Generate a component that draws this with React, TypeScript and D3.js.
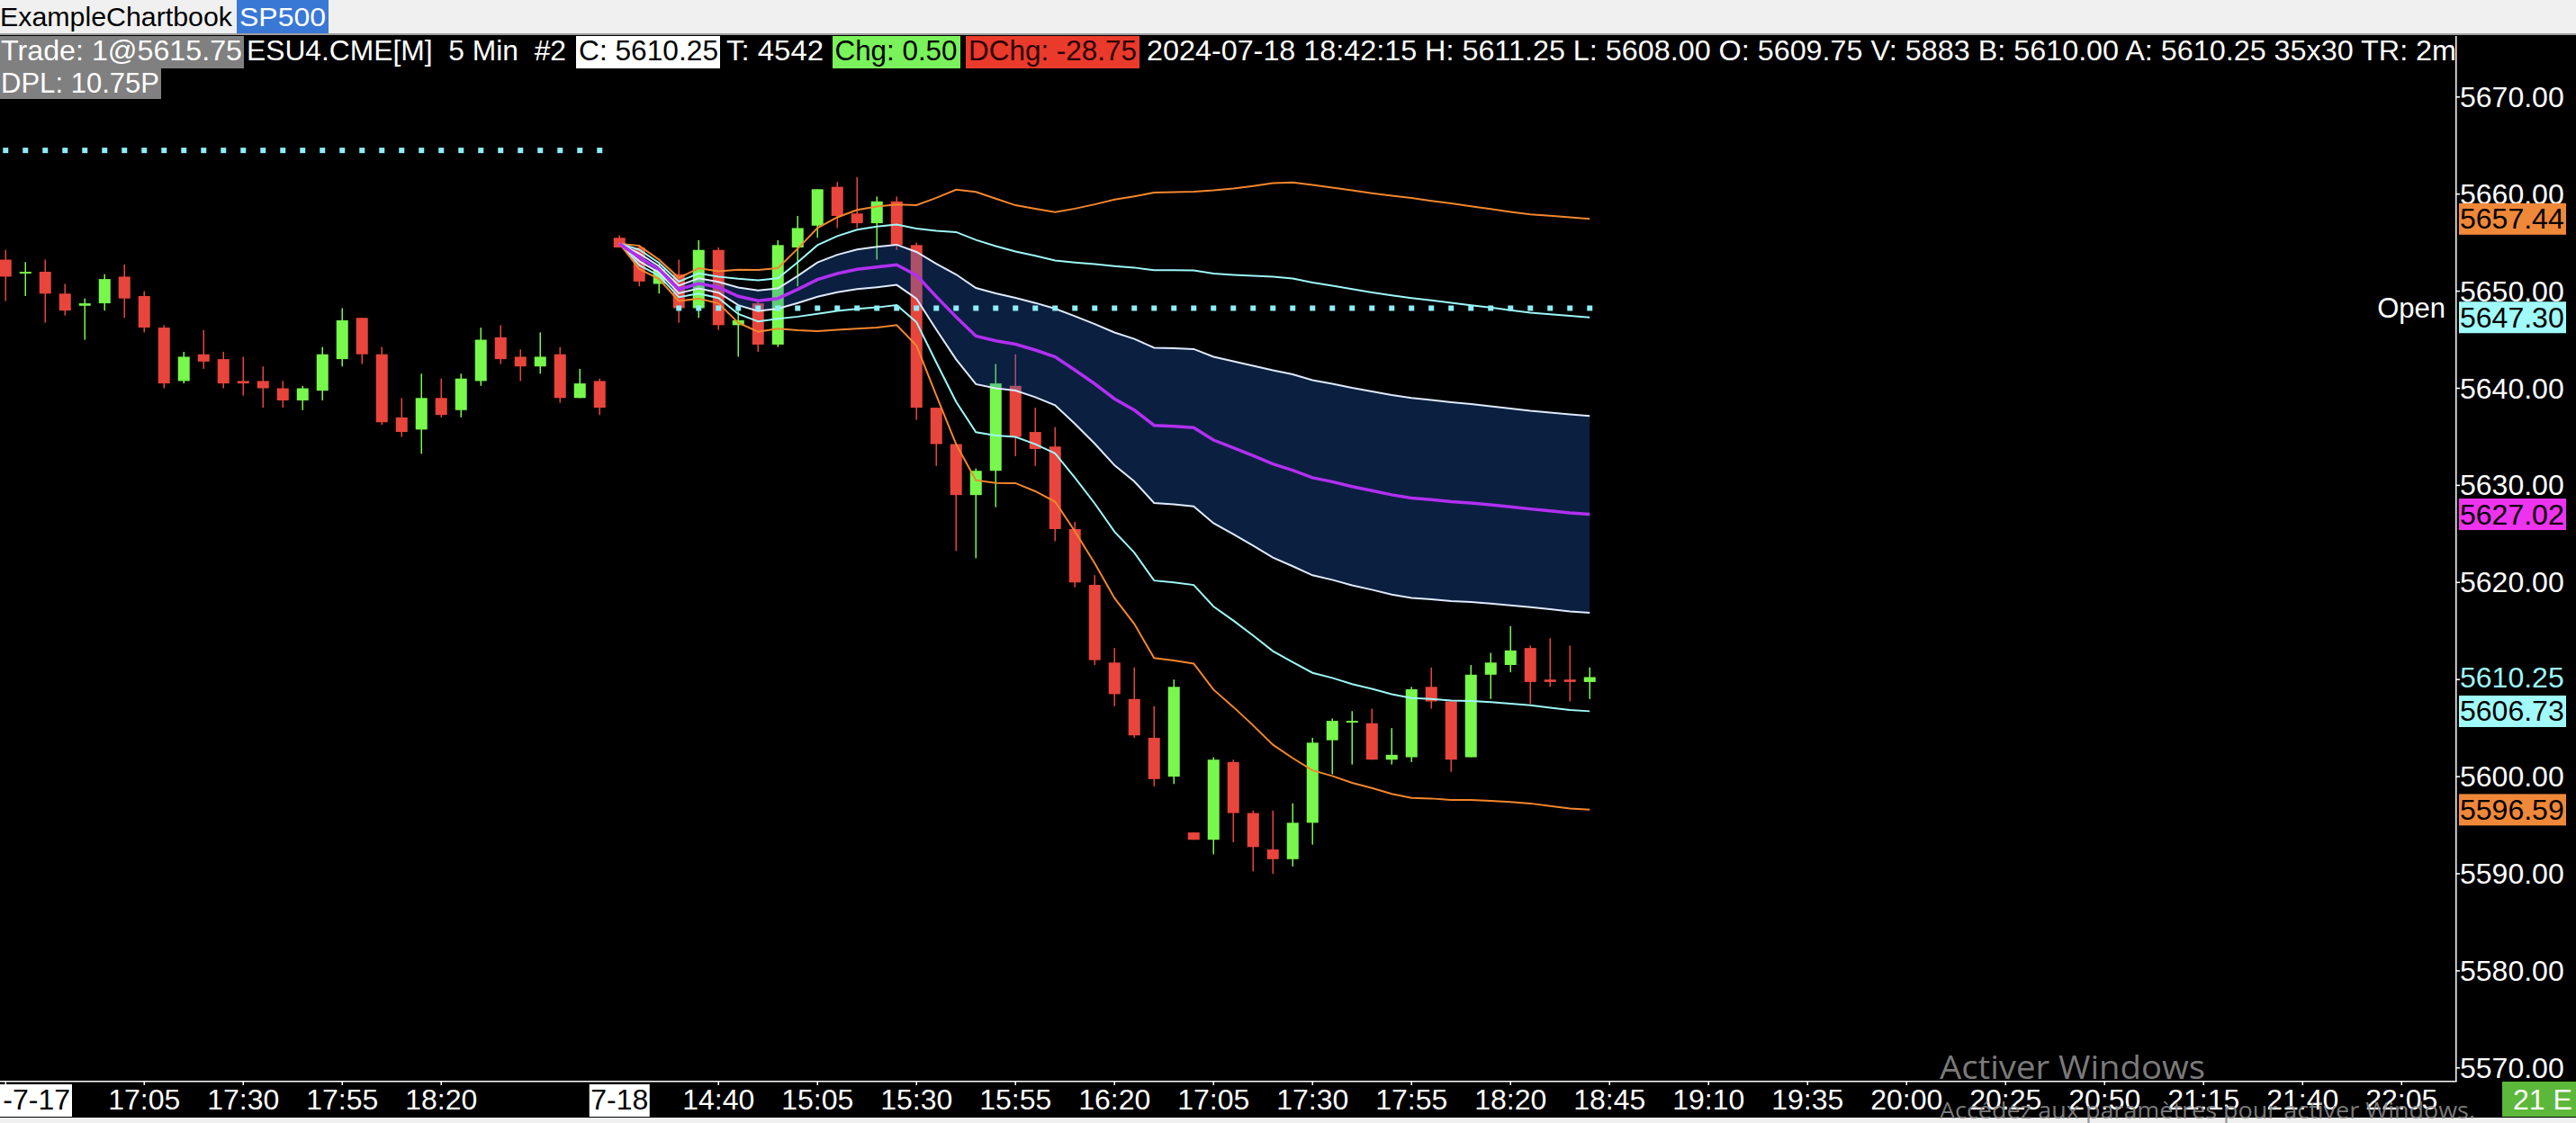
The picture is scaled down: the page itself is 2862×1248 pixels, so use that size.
import React from "react";
import * as d3 from "d3";

const W = 2862;
const H = 1248;

// OHLC per 5-min bar (bars 0..30 = 7-17 session, 31..80 = 7-18 session)
const opens = [
  5653.25, 5652, 5652, 5649.75, 5648.5, 5648.75, 5651.5, 5649.5, 5646.25, 5640.75,
  5643.5, 5643, 5640.75, 5640.75, 5640, 5638.75, 5639.75, 5643, 5647.25, 5643.5,
  5637, 5635.75, 5639, 5637.75, 5640.75, 5645.25, 5643.25, 5642.25, 5643.5, 5639,
  5640.75,
  5655.5, 5654.5, 5650.75, 5651.75, 5648.25, 5654.25, 5646.5, 5648.75, 5644.5, 5654.5,
  5656.75, 5660.75, 5658, 5657, 5659.25, 5654.75, 5638, 5634.25, 5629, 5631.5,
  5640.25, 5635.5, 5634, 5625.5, 5619.75, 5611.75, 5608, 5604, 5600, 5594.25,
  5593.5, 5601.5, 5596.25, 5592.5, 5591.5, 5595.25, 5603.75, 5605.75, 5605.5, 5601.75,
  5602, 5609.25, 5607.75, 5602, 5610.5, 5611.5, 5613.25, 5610, 5610, 5609.75,
];
const highs = [
  5654.25, 5653, 5653.25, 5650.75, 5649.25, 5651.75, 5652.75, 5650, 5646.5, 5643.75,
  5646, 5643.75, 5643.25, 5642.25, 5640.75, 5640.25, 5644.25, 5648.25, 5647.25, 5644.25,
  5639, 5641.5, 5641, 5641.5, 5646.25, 5646.5, 5644, 5645.75, 5644.25, 5642,
  5641,
  5655.75, 5654.75, 5652.75, 5653.25, 5655.25, 5654.5, 5648, 5649, 5655.25, 5657.75,
  5660.5, 5661.25, 5661.75, 5659.75, 5659.75, 5655, 5638, 5634.25, 5631.75, 5642.5,
  5643.5, 5638, 5636, 5626.25, 5620.75, 5613.25, 5611.25, 5607.25, 5610, 5594.25,
  5602, 5601.75, 5596.5, 5596.5, 5597.25, 5604, 5606, 5606.75, 5607, 5605,
  5609.25, 5611.25, 5607.75, 5611.5, 5612.75, 5615.5, 5613.5, 5614.25, 5613.5, 5611.25,
];
const lows = [
  5649, 5649.5, 5646.75, 5647.5, 5645, 5648, 5647.25, 5645.75, 5640, 5640.5,
  5642, 5640, 5639.25, 5638, 5638, 5637.75, 5638.75, 5642.25, 5642.5, 5636.25,
  5635, 5633.25, 5637, 5637, 5640.25, 5642.5, 5640.75, 5641.5, 5638.5, 5639,
  5637.25,
  5654.5, 5650.5, 5649.75, 5646.75, 5647.25, 5646, 5643.25, 5643.75, 5644.25, 5650.5,
  5655.5, 5656.5, 5656.5, 5653.25, 5654.25, 5636.75, 5632, 5623.25, 5622.5, 5627.75,
  5633, 5632, 5624.25, 5619.5, 5611.5, 5607.25, 5604, 5599, 5599.25, 5593.5,
  5592, 5593.25, 5590.25, 5590, 5590.75, 5593, 5600.25, 5601.25, 5601.75, 5601.25,
  5601.5, 5607, 5600.5, 5602, 5608, 5610.75, 5607.5, 5609.25, 5607.75, 5608,
];
const closes = [
  5651.5, 5652, 5649.75, 5648, 5648.75, 5651.25, 5649.25, 5646.25, 5640.5, 5643.25,
  5642.75, 5640.5, 5640.5, 5640, 5638.75, 5640, 5643.5, 5647, 5643.5, 5636.5,
  5635.5, 5639, 5637.25, 5641, 5645, 5643, 5642.25, 5643.25, 5639, 5640.5,
  5638,
  5654.5, 5651, 5652.25, 5648.25, 5654.25, 5646.5, 5647, 5644.5, 5654.75, 5656.5,
  5660.5, 5657.75, 5657, 5659.25, 5654.75, 5638, 5634.25, 5629, 5631.5, 5640.5,
  5635, 5633.75, 5625.5, 5620, 5612, 5608.5, 5604.25, 5599.75, 5609.25, 5593.5,
  5601.75, 5596.25, 5592.75, 5591.5, 5595.25, 5603.5, 5605.75, 5605.75, 5601.75, 5602.25,
  5609, 5607.75, 5601.75, 5610.5, 5611.75, 5613, 5609.75, 5609.75, 5609.75, 5610.25,
];

// VWAP and its standard deviation for bars 31..80
const sessionStart = 31;
const vwap = [
  5654.9, 5653.48, 5652.25, 5650.18, 5650.8, 5650.4, 5649.47, 5649.01, 5649.25, 5650.18,
  5651.2, 5651.82, 5652.25, 5652.49, 5652.72, 5651.63, 5649.44, 5647.35, 5645.38, 5644.89,
  5644.54, 5643.94, 5643.23, 5641.88, 5640.46, 5638.91, 5637.75, 5636.18, 5636.09, 5635.94,
  5634.67, 5633.88, 5633.06, 5632.21, 5631.55, 5630.79, 5630.37, 5629.87, 5629.46, 5629.03,
  5628.7, 5628.53, 5628.32, 5628.18, 5627.99, 5627.78, 5627.57, 5627.37, 5627.16, 5627.02,
];
const sigma = [
  0, 0.4, 0.33, 0.4, 0.52, 0.55, 0.91, 1.06, 1.04, 1.4,
  1.77, 1.93, 2.04, 2.08, 2.07, 2.41, 3.39, 4.37, 4.95, 4.88,
  4.77, 4.85, 4.97, 5.54, 6.16, 6.84, 7.34, 7.99, 8.04, 8.1,
  8.57, 8.9, 9.26, 9.64, 9.88, 10.05, 10.1, 10.17, 10.21, 10.27,
  10.3, 10.26, 10.24, 10.19, 10.16, 10.13, 10.11, 10.13, 10.15, 10.14,
];
const bandLines = [
  { k: 3, color: "#f3862e", width: 2 },
  { k: 2, color: "#9ef8f8", width: 2 },
  { k: 1, color: "#dfeaff", width: 2 },
  { k: -1, color: "#dfeaff", width: 2 },
  { k: -2, color: "#9ef8f8", width: 2 },
  { k: -3, color: "#f3862e", width: 2 },
];

// Opening-price dotted lines
const openLevels = [
  { value: 5664.5, from: 0, to: 30 },
  { value: 5648.25, from: 34, to: 80 },
];

const priceTicks = [5670, 5660, 5650, 5640, 5630, 5620, 5610, 5600, 5590, 5580, 5570];
const hiddenPriceLabels = [5610];
const lastPrice = 5610.25;
const valueTags = [
  { value: 5657.44, color: "#f0883a" },
  { value: 5647.3, color: "#a0fafa" },
  { value: 5627.02, color: "#ee33ee" },
  { value: 5606.73, color: "#a0fafa" },
  { value: 5596.59, color: "#f0883a" },
];

const timeLabels = [
  { bar: 7, label: "17:05" }, { bar: 12, label: "17:30" }, { bar: 17, label: "17:55" },
  { bar: 22, label: "18:20" }, { bar: 36, label: "14:40" }, { bar: 41, label: "15:05" },
  { bar: 46, label: "15:30" }, { bar: 51, label: "15:55" }, { bar: 56, label: "16:20" },
  { bar: 61, label: "17:05" }, { bar: 66, label: "17:30" }, { bar: 71, label: "17:55" },
  { bar: 76, label: "18:20" }, { bar: 81, label: "18:45" }, { bar: 86, label: "19:10" },
  { bar: 91, label: "19:35" }, { bar: 96, label: "20:00" }, { bar: 101, label: "20:25" },
  { bar: 106, label: "20:50" }, { bar: 111, label: "21:15" }, { bar: 116, label: "21:40" },
  { bar: 121, label: "22:05" },
];
const dateLabels = [{ bar: 31, label: "7-18" }];

const FONT = "'Liberation Sans', Arial, sans-serif";
const GREEN = "#78f84c";
const RED = "#e8453c";

export default function App() {
  const plotRight = 2728;
  const plotTop = 39;
  const plotBottom = 1201;

  const x = d3.scaleLinear().domain([0, 121]).range([6.25, 2668.25]);
  const y = d3.scaleLinear().domain([5570, 5670]).range([1186.8, 107.8]);
  const fmt = d3.format(".2f");

  const bars = opens.map((o, i) => ({ i, o, h: highs[i], l: lows[i], c: closes[i] }));

  const band = d3
    .area<number>()
    .x((_, j) => x(sessionStart + j))
    .y0((v, j) => y(v - sigma[j]))
    .y1((v, j) => y(v + sigma[j]))(vwap);

  const bandPath = (k: number) =>
    d3
      .line<number>()
      .x((_, j) => x(sessionStart + j))
      .y((v, j) => y(v + k * sigma[j]))(vwap);

  const vwapPath = d3
    .line<number>()
    .x((_, j) => x(sessionStart + j))
    .y((v) => y(v))(vwap);

  const dots: { cx: number; cy: number }[] = [];
  openLevels.forEach((lv) => {
    d3.range(lv.from, lv.to + 1).forEach((b) => dots.push({ cx: x(b), cy: y(lv.value) }));
  });

  return (
    <svg
      width={W}
      height={H}
      style={{ position: "absolute", left: 0, top: 0, background: "#000" }}
      fontFamily={FONT}
    >
      <defs>
        <clipPath id="plotClip">
          <rect x={0} y={plotTop} width={plotRight} height={plotBottom - plotTop} />
        </clipPath>
        <clipPath id="headClip">
          <rect x={0} y={plotTop} width={plotRight} height={80} />
        </clipPath>
      </defs>
      <rect x={0} y={0} width={W} height={H} fill="#000" />

      {/* title bar */}
      <rect x={0} y={0} width={W} height={37} fill="#f0f0f0" />
      <rect x={0} y={37} width={W} height={2} fill="#a0a0a0" />
      <text x={0} y={29} fontSize={29} fill="#000" textLength={258} lengthAdjust="spacingAndGlyphs">
        ExampleChartbook
      </text>
      <rect x={263} y={0} width={102} height={37} fill="#3a78d6" />
      <text x={266} y={29} fontSize={29} fill="#fff" textLength={96} lengthAdjust="spacingAndGlyphs">
        SP500
      </text>

      {/* candles */}
      <g clipPath="url(#plotClip)">
        {bars.map((b) => {
          const cx = x(b.i);
          const up = b.c >= b.o;
          const col = up ? GREEN : RED;
          const top = y(Math.max(b.o, b.c));
          const bot = y(Math.min(b.o, b.c));
          return (
            <g key={b.i}>
              <rect x={cx - 0.75} y={y(b.h)} width={1.5} height={y(b.l) - y(b.h)} fill={col} />
              <rect x={cx - 6.5} y={top} width={13} height={Math.max(bot - top, 2)} fill={col} />
            </g>
          );
        })}

        {/* VWAP band */}
        <path d={band || ""} fill="rgb(37,107,213)" fillOpacity={0.3} />
        {bandLines.map((bl) => (
          <path key={bl.k} d={bandPath(bl.k) || ""} fill="none" stroke={bl.color} strokeWidth={bl.width} />
        ))}
        <path d={vwapPath || ""} fill="none" stroke="#b22ff2" strokeWidth={3.5} />

        {dots.map((d, i) => (
          <rect key={i} x={d.cx - 3} y={d.cy - 3} width={6} height={6} fill="#8eeefa" />
        ))}
      </g>

      <text x={2717} y={y(5648.25) + 11} fontSize={31} fill="#fff" textAnchor="end">
        Open
      </text>

      {/* header */}
      <g clipPath="url(#headClip)" fontSize={32} style={{ whiteSpace: "pre" }}>
        <rect x={0} y={40} width={271} height={36} fill="#808080" />
        <text x={1} y={67} fill="#fff" textLength={268} lengthAdjust="spacingAndGlyphs">Trade: 1@5615.75</text>
        <text x={274} y={67} fill="#fff" textLength={355} lengthAdjust="spacingAndGlyphs" xmlSpace="preserve">ESU4.CME[M]  5 Min  #2</text>
        <rect x={640} y={40} width={160} height={36} fill="#fff" />
        <text x={643} y={67} fill="#000" textLength={155} lengthAdjust="spacingAndGlyphs">C: 5610.25</text>
        <text x={807} y={67} fill="#fff" textLength={108} lengthAdjust="spacingAndGlyphs">T: 4542</text>
        <rect x={925} y={40} width={142} height={36} fill="#79f25c" />
        <text x={927.5} y={67} fill="#000" textLength={136} lengthAdjust="spacingAndGlyphs">Chg: 0.50</text>
        <rect x={1073} y={40} width={193} height={36} fill="#ea3a2c" />
        <text x={1076} y={67} fill="#2a0000" textLength={187} lengthAdjust="spacingAndGlyphs">DChg: -28.75</text>
        <text x={1274} y={67} fill="#fff" textLength={1455} lengthAdjust="spacingAndGlyphs">
          2024-07-18 18:42:15 H: 5611.25 L: 5608.00 O: 5609.75 V: 5883 B: 5610.00 A: 5610.25 35x30 TR: 2m
        </text>
        <rect x={0} y={76} width={179} height={34} fill="#808080" />
        <text x={1} y={103} fill="#fff" textLength={176} lengthAdjust="spacingAndGlyphs">DPL: 10.75P</text>
      </g>

      {/* axes frame */}
      <rect x={plotRight} y={plotTop + 1} width={1.5} height={plotBottom - plotTop} fill="#fff" />
      <rect x={0} y={plotBottom} width={plotRight + 1.5} height={1.5} fill="#fff" />

      {/* price axis */}
      <g fontSize={32}>
        {priceTicks.map((p) => (
          <g key={p}>
            <rect x={plotRight} y={y(p) - 0.75} width={5} height={1.5} fill="#fff" />
            {!hiddenPriceLabels.includes(p) && (
              <text x={2733} y={y(p) + 11} fill="#fff">{fmt(p)}</text>
            )}
          </g>
        ))}
        <text x={2733} y={y(lastPrice) + 11} fill="#9ef8f8">{fmt(lastPrice)}</text>
        {valueTags.map((t) => (
          <g key={t.value}>
            <rect x={2732} y={y(t.value) - 17.5} width={119} height={35} fill={t.color} />
            <text x={2733} y={y(t.value) + 11} fill="#000">{fmt(t.value)}</text>
          </g>
        ))}
      </g>

      {/* time axis */}
      <g fontSize={32}>
        <rect x={x(0) - 0.75} y={plotBottom} width={1.5} height={5} fill="#fff" />
        <rect x={0} y={1205} width={80} height={36} fill="#fff" />
        <text x={78} y={1233} fill="#000" textAnchor="end">-7-17</text>
        {dateLabels.map((d) => (
          <g key={d.label}>
            <rect x={x(d.bar) - 33.5} y={1205} width={67} height={36} fill="#fff" />
            <text x={x(d.bar)} y={1233} fill="#000" textAnchor="middle">{d.label}</text>
          </g>
        ))}
        {timeLabels.map((t) => (
          <g key={t.bar}>
            <rect x={x(t.bar) - 0.75} y={plotBottom} width={1.5} height={5} fill="#fff" />
            <text x={x(t.bar)} y={1233} fill="#fff" textAnchor="middle">{t.label}</text>
          </g>
        ))}
      </g>

      {/* bottom strip */}
      <rect x={0} y={1242} width={W} height={6} fill="#f0f0f0" />
      <rect x={2780} y={1202} width={82} height={39} fill="#5cb83a" />
      <text x={2792} y={1233} fontSize={32} fill="#fff">21 E</text>

      {/* OS watermark */}
      <g fontFamily="'Open Sans', 'Noto Sans', sans-serif" fill="#8c8c8c" fillOpacity={0.9}>
        <text x={2155} y={1199} fontSize={37} textLength={295} lengthAdjust="spacingAndGlyphs">Activer Windows</text>
        <text x={2155} y={1243} fontSize={25} textLength={595} lengthAdjust="spacingAndGlyphs">Accédez aux paramètres pour activer Windows.</text>
      </g>
    </svg>
  );
}
